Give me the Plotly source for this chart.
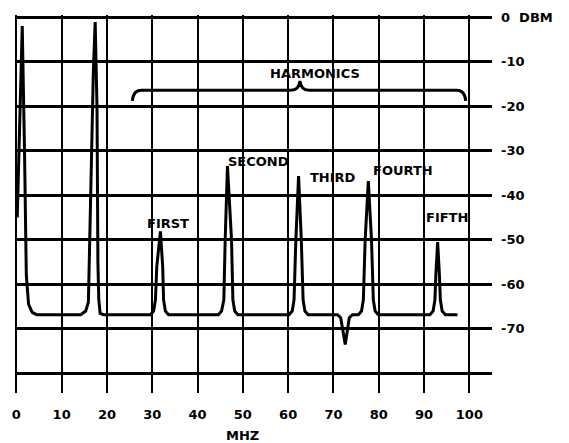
import plotly.graph_objects as go

# Trace vertices (frequency in MHz, level in dBm)
freq_mhz = [0.2, 0.8, 1.3, 1.8, 2.2, 2.7, 3.5, 4.5,
            14.2, 15.3, 15.9, 16.2, 17.0, 17.4, 17.8, 18.0, 18.2, 18.5, 19.3,
            29.6, 30.3, 30.7, 31.0, 31.8, 32.3, 32.5, 32.9, 33.6,
            44.6, 45.3, 45.8, 46.1, 46.6, 47.5, 47.8, 48.2, 48.9,
            60.2, 60.9, 61.3, 61.7, 62.3, 62.9, 63.3, 63.7, 64.4,
            70.9, 71.6, 72.6, 73.5, 74.2,
            75.5, 76.2, 76.6, 77.0, 77.7, 78.4, 78.8, 79.2, 79.9,
            91.3, 92.0, 92.4, 92.6, 93.0, 93.4, 93.6, 94.0, 94.7,
            97.4]
level_dbm = [-45, -20, -2, -30, -58, -64.5, -66.3, -66.8,
             -66.8, -66.0, -64.0, -50, -12, -1.1, -20, -55, -63.5, -66.5, -66.8,
             -66.8, -66.0, -63.5, -56, -48.1, -56, -63.5, -66.0, -66.8,
             -66.8, -66.0, -63.5, -50, -33.4, -50, -63.5, -66.0, -66.8,
             -66.8, -66.0, -63.5, -50, -35.7, -50, -63.5, -66.0, -66.8,
             -66.8, -67.5, -73.5, -67.5, -66.8,
             -66.8, -66.0, -63.5, -50, -36.8, -50, -63.5, -66.0, -66.8,
             -66.8, -66.0, -63.5, -58, -50.5, -58, -63.5, -66.0, -66.8,
             -66.8]

x_ticks = [0, 10, 20, 30, 40, 50, 60, 70, 80, 90, 100]
x_tick_labels = ["0", "10", "20", "30", "40", "50", "60", "70", "80", "90", "100"]
y_ticks = [0, -10, -20, -30, -40, -50, -60, -70, -80]
y_tick_labels = ["0  DBM", "-10", "-20", "-30", "-40", "-50", "-60", "-70", ""]

harmonic_names = ["FIRST", "SECOND", "THIRD", "FOURTH", "FIFTH"]
harmonic_label_x = [33.4, 53.4, 70.0, 85.4, 95.0]
harmonic_label_y = [-46.4, -32.3, -35.9, -34.5, -45.0]

FONT = dict(family="DejaVu Sans", size=13, color="black", weight="bold")

fig = go.Figure()
fig.add_trace(go.Scatter(x=freq_mhz, y=level_dbm, mode="lines",
                         line=dict(color="black", width=3), hoverinfo="skip",
                         showlegend=False))

for name, lx, ly in zip(harmonic_names, harmonic_label_x, harmonic_label_y):
    fig.add_annotation(x=lx, y=ly, text=name, showarrow=False, font=FONT,
                       xanchor="center", yanchor="middle")

fig.add_annotation(x=66, y=-12.6, text="HARMONICS", showarrow=False, font=FONT,
                   xanchor="center", yanchor="middle")
fig.add_annotation(x=50, xref="x", y=0, yref="paper", yshift=-42, text="MHZ",
                   showarrow=False, font=FONT, xanchor="center", yanchor="middle")

# curly brace over the harmonics
fig.add_shape(type="path", xref="x", yref="y",
              path="M 25.6,-18.8 Q 25.8,-16.4 27.6,-16.4 L 60.6,-16.4 "
                   "Q 62.4,-16.4 62.6,-14.3 Q 62.8,-16.4 64.6,-16.4 "
                   "L 97.2,-16.4 Q 99.0,-16.4 99.2,-18.8",
              line=dict(color="black", width=3))

fig.update_xaxes(range=[-0.3, 105], tickvals=x_ticks, ticktext=x_tick_labels,
                 showgrid=True, gridcolor="black", gridwidth=2.2,
                 zeroline=False, showline=False, ticks="", automargin=False,
                 tickfont=FONT, ticklabelstandoff=12, fixedrange=True)
fig.update_yaxes(range=[-84.4, 0.5], tickvals=y_ticks, ticktext=y_tick_labels,
                 side="right", showgrid=True, gridcolor="black", gridwidth=2.6,
                 zeroline=False, showline=False, ticks="", automargin=False,
                 tickfont=FONT, ticklabelstandoff=8, fixedrange=True)

# the page body adds an 8px offset, so the figure is 8px smaller and margins shifted
fig.update_layout(width=561, height=435,
                  margin=dict(l=7, r=77, t=7, b=50),
                  plot_bgcolor="white", paper_bgcolor="white",
                  showlegend=False)

fig.write_html("out.html")
